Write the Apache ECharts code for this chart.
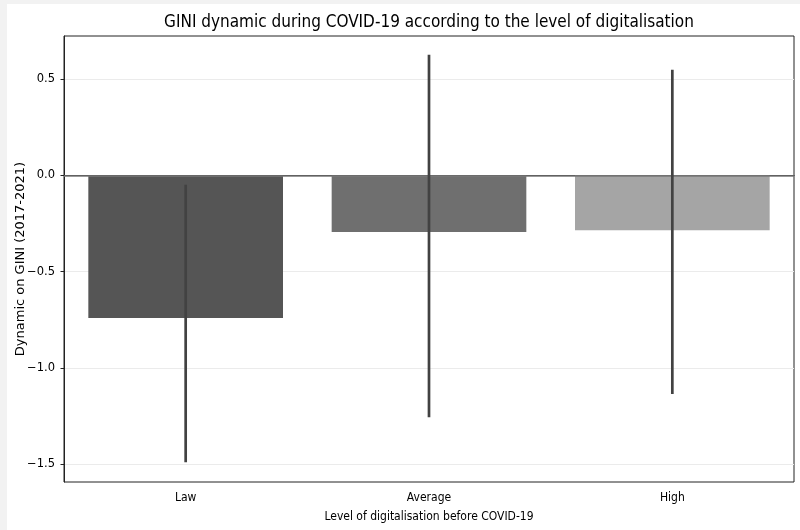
<!DOCTYPE html>
<html>
<head>
<meta charset="utf-8">
<script src="https://cdn.jsdelivr.net/npm/echarts@6/dist/echarts.min.js"></script>
<style>
html,body{margin:0;padding:0;background:#f2f2f2;}
#main{width:800px;height:530px;}
</style>
</head>
<body>
<div id="main"></div>
<script>
const categories = ['Law', 'Average', 'High'];
const values = [-0.740, -0.294, -0.284];
const errLow = [-1.490, -1.256, -1.135];
const errHigh = [-0.048, 0.627, 0.549];
const barColors = ['#555555', '#6f6f6f', '#a5a5a5'];
const yTicks = [-1.5, -1.0, -0.5, 0.0, 0.5];
const yMin = -1.593, yMax = 0.725;

const chart = echarts.init(document.getElementById('main'), null, {renderer: 'canvas'});
const fmt = v => v.toFixed(1).replace('-', '\u2212');

chart.setOption({
  animation: false,
  backgroundColor: '#f2f2f2',
  graphic: [{
    type: 'rect', z: -100, silent: true,
    shape: {x: 7, y: 4, width: 793, height: 526},
    style: {fill: '#ffffff'}
  }],
  title: {
    text: 'GINI dynamic during COVID-19 according to the level of digitalisation',
    left: 424, top: 9, textAlign: 'center',
    textStyle: {fontFamily: 'DejaVu Sans Condensed', fontSize: 17, fontWeight: 'normal', color: '#000'}
  },
  grid: {left: 64, right: 6, top: 36, bottom: 48, show: true, borderColor: '#222', borderWidth: 1,
         backgroundColor: 'transparent', containLabel: false, outerBoundsMode: 'none'},
  xAxis: {
    type: 'category', data: categories,
    name: 'Level of digitalisation before COVID-19',
    nameLocation: 'middle', nameGap: 29,
    nameTextStyle: {fontFamily: 'DejaVu Sans Condensed', fontSize: 12, color: '#000'},
    axisLine: {show: true, lineStyle: {color: '#222', width: 1}},
    axisTick: {show: true, alignWithLabel: true, length: 3.5, lineStyle: {color: '#222'}},
    axisLabel: {fontFamily: 'DejaVu Sans Condensed', fontSize: 12, color: '#000', margin: 10},
    splitLine: {show: false}
  },
  yAxis: {
    type: 'value', min: yMin, max: yMax,
    name: 'Dynamic on GINI (2017-2021)',
    nameLocation: 'middle', nameGap: 37, nameMoveOverlap: false,
    nameTextStyle: {fontFamily: 'DejaVu Sans', fontSize: 13, color: '#000'},
    axisLine: {show: true, lineStyle: {color: '#222', width: 1}},
    axisTick: {show: true, length: 3.5, lineStyle: {color: '#222'}, customValues: yTicks},
    axisLabel: {fontFamily: 'DejaVu Sans', fontSize: 11.5, color: '#000', margin: 9, customValues: yTicks, formatter: fmt},
    splitLine: {show: true, lineStyle: {color: '#ebebeb', width: 1}}
  },
  series: [{
    type: 'bar',
    barWidth: '80%',
    data: values.map((v, i) => ({value: v, itemStyle: {color: barColors[i]}})),
    markLine: {
      silent: true, symbol: 'none', label: {show: false},
      lineStyle: {color: '#777777', width: 1.5, type: 'solid'},
      data: [{yAxis: 0}]
    },
    z: 2
  }, {
    type: 'custom',
    data: categories.map((c, i) => [i, errLow[i], errHigh[i]]),
    renderItem: function (params, api) {
      const p1 = api.coord([api.value(0), api.value(1)]);
      const p2 = api.coord([api.value(0), api.value(2)]);
      return {type: 'line', shape: {x1: p1[0], y1: p1[1], x2: p2[0], y2: p2[1]},
        style: {stroke: '#424242', lineWidth: 2.7}};
    },
    z: 5
  }]
});
</script>
</body>
</html>
